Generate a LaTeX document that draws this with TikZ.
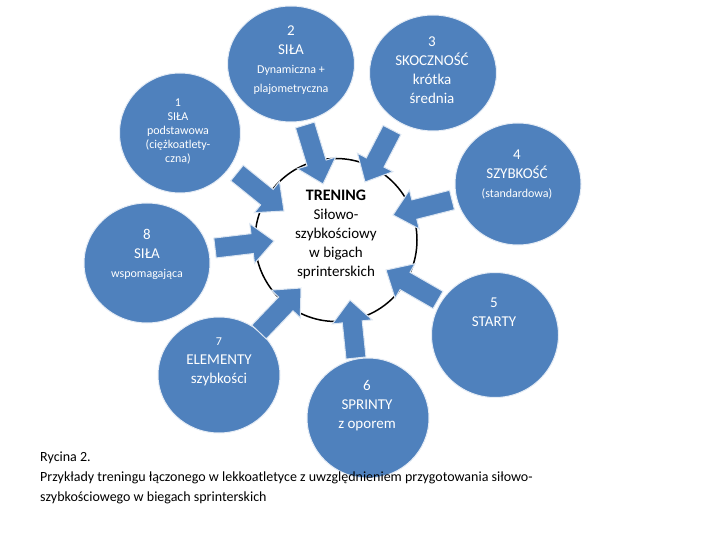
\documentclass[tikz,border=0pt]{standalone}
\usepackage{fontspec}
\setmainfont{Carlito}
\usetikzlibrary{shapes.geometric,arrows.meta,calc}
\definecolor{ringblue}{HTML}{4F81BD}
\newcommand{\lbl}{\fontsize{15}{19}\selectfont}
\newcommand{\sml}{\fontsize{12}{14}\selectfont}
\begin{document}
\begin{tikzpicture}[x=1pt,y=-1pt,
  ball/.style={ellipse,fill=ringblue,draw=white!85!ringblue,line width=1pt,inner sep=0pt},
  intxt/.style={text=white,align=center,inner sep=0pt,font=\lbl},
  push/.style={draw=white!80!ringblue,line width=1pt,fill=ringblue}]
\useasboundingbox (0,0) rectangle (720,540);

% pictures of the circles
\node[ball,minimum width=127,minimum height=116] (c2) at (291,64) {};
\node[ball,minimum width=127,minimum height=116] (c3) at (433,73) {};
\node[ball,minimum width=121,minimum height=120] (c1) at (180,133) {};
\node[ball,minimum width=126,minimum height=122] (c4) at (518,184) {};
\node[ball,minimum width=126,minimum height=120] (c8) at (147,263) {};
\node[ball,minimum width=127,minimum height=125] (c5) at (495,335) {};
\node[ball,minimum width=122,minimum height=116] (c7) at (219,375) {};
\node[ball,minimum width=122,minimum height=120] (c6) at (368,418) {};
\node[ellipse,draw,fill=white,line width=1.5pt,minimum width=162,minimum height=163] (tr) at (336,240) {};

\coordinate (t2) at (305,125); \coordinate (h2) at (323,184);
\coordinate (t3) at (392,130); \coordinate (h3) at (365,182);
\coordinate (t1) at (237,173); \coordinate (h1) at (284,211);
\coordinate (t4) at (452,200); \coordinate (h4) at (393,215);
\coordinate (t8) at (215,248); \coordinate (h8) at (274,241);
\coordinate (t5) at (438,300); \coordinate (h5) at (386,270);
\coordinate (t7) at (259,332); \coordinate (h7) at (301,288);
\coordinate (t6) at (356,358); \coordinate (h6) at (350,300);

\foreach \k in {1,...,8}{
  \path[push] let \p1=($(h\k)-(t\k)$), \n1={atan2(\y1,\x1)}, \n2={veclen(\x1,\y1)} in
    [shift={(t\k)},rotate=\n1]
    (0,-10) -- (\n2-22,-10) -- (\n2-22,-20) -- (\n2,0) -- (\n2-22,20) -- (\n2-22,10) -- (0,10) -- cycle;
}

\node[intxt] (x2) at (291,60) {2\\SIŁA\\\sml Dynamiczna +\\\sml plajometryczna};
\node[intxt] (x3) at (432,70) {3\\SKOCZNOŚĆ\\krótka\\średnia};
\node[intxt,font=\sml] (x1) at (178,131) {1\\SIŁA\\podstawowa\\(ciężkoatlety-\\czna)};
\node[intxt] (x4) at (517,175) {4\\SZYBKOŚĆ\\\sml (standardowa)};
\node[intxt] (x8) at (147,254) {8\\SIŁA\\\sml wspomagająca};
\node[intxt] (x5) at (494,312) {5\\STARTY};
\node[intxt] (x7) at (219,362) {\sml 7\\ELEMENTY\\szybkości};
\node[intxt] (x6) at (367,406) {6\\SPRINTY\\z oporem};
\node[align=center,inner sep=0pt,font=\lbl] (xt) at (336,234) {\fontsize{16}{19}\selectfont\textbf{TRENING}\\Siłowo-\\szybkościowy\\w bigach\\sprinterskich};

\node[anchor=north west,align=left,inner sep=0pt,font=\fontsize{14}{20}\selectfont] (cap) at (40,452)
  {Rycina 2.\\Przykłady treningu łączonego w lekkoatletyce z uwzględnieniem przygotowania siłowo-\\szybkościowego w biegach sprinterskich};
\end{tikzpicture}
\end{document}
